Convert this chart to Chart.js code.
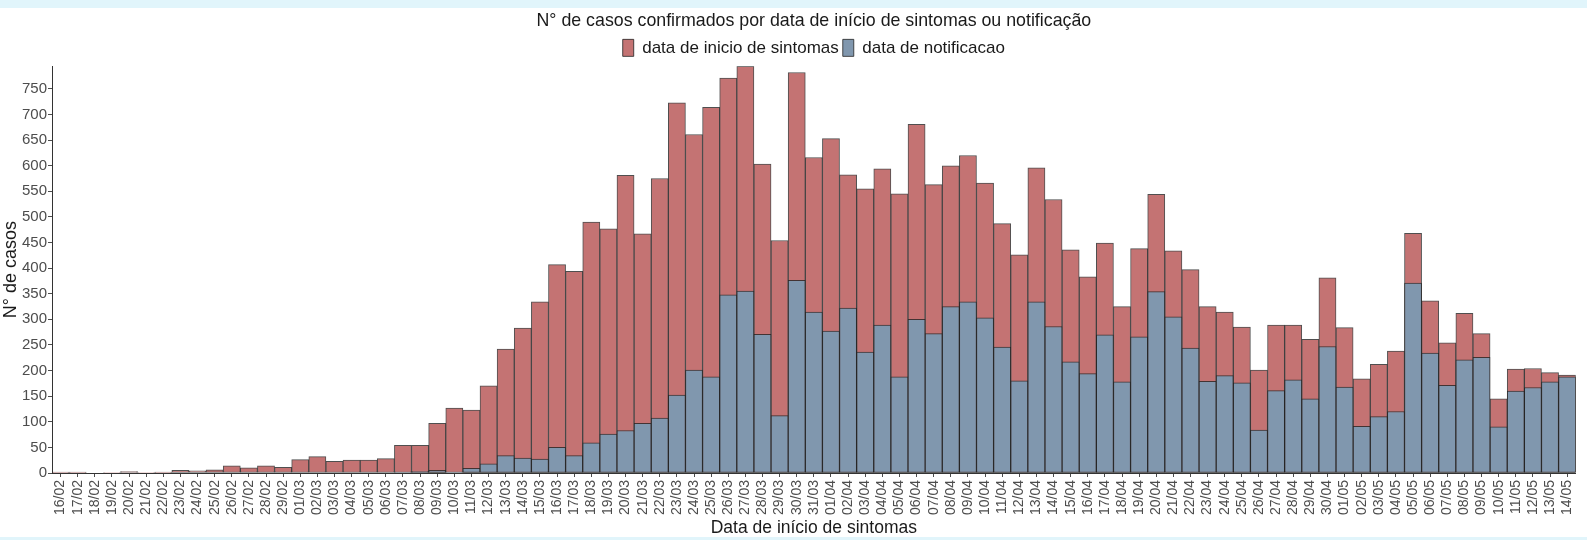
<!DOCTYPE html>
<html>
<head>
<meta charset="utf-8">
<script src="https://cdn.jsdelivr.net/npm/chart.js@4.4.1/dist/chart.umd.min.js"></script>
<style>
  html, body { margin: 0; padding: 0; background: #e1f5fb; width: 1587px; height: 540px; overflow: hidden; }
  #wrap { position: absolute; left: 0; top: 8px; width: 1587px; height: 529px; background: #ffffff; }
  canvas { display: block; }
</style>
</head>
<body>
<div id="wrap"><canvas id="c" width="1587" height="529"></canvas></div>
<script>
// ---- data ----
const categories = [
  "16/02","17/02","18/02","19/02","20/02","21/02","22/02","23/02","24/02","25/02","26/02","27/02","28/02","29/02",
  "01/03","02/03","03/03","04/03","05/03","06/03","07/03","08/03","09/03","10/03","11/03","12/03","13/03","14/03","15/03","16/03",
  "17/03","18/03","19/03","20/03","21/03","22/03","23/03","24/03","25/03","26/03","27/03","28/03","29/03","30/03","31/03",
  "01/04","02/04","03/04","04/04","05/04","06/04","07/04","08/04","09/04","10/04","11/04","12/04","13/04","14/04","15/04",
  "16/04","17/04","18/04","19/04","20/04","21/04","22/04","23/04","24/04","25/04","26/04","27/04","28/04","29/04","30/04",
  "01/05","02/05","03/05","04/05","05/05","06/05","07/05","08/05","09/05","10/05","11/05","12/05","13/05","14/05"
];
const inicioSintomas = [
  2,2,0,1,3,1,2,5,4,6,14,10,14,11,
  26,32,23,25,25,28,54,54,97,127,123,170,242,283,334,407,
  394,490,477,581,467,575,723,661,714,771,794,603,454,782,616,
  653,582,555,594,545,681,563,600,620,566,487,426,596,534,436,
  383,449,325,438,544,434,397,325,314,285,201,289,289,261,381,
  284,184,212,238,468,336,254,312,272,145,203,204,196,191
];
const notificacao = [
  0,0,0,0,0,0,0,0,0,0,0,0,0,0,
  0,0,0,0,0,0,1,3,5,1,9,18,34,29,27,50,
  34,59,76,83,97,107,152,201,188,348,355,271,112,376,314,
  277,322,236,289,188,300,272,325,334,303,246,180,334,286,217,
  194,270,178,266,354,305,244,179,190,176,84,161,182,145,247,
  168,91,110,120,371,234,171,221,226,90,160,167,178,188
];
const yTickValues = [0,50,100,150,200,250,300,350,400,450,500,550,600,650,700,750];
const yMax = 794;

const RED = '#c47373';
const BLUE = '#8097ae';
const EDGE = 'rgba(35,35,35,0.8)';
const FONT = "'Liberation Sans', Arial, sans-serif";

new Chart(document.getElementById('c'), {
  type: 'bar',
  data: {
    labels: categories,
    datasets: [
      { label: 'data de inicio de sintomas', data: inicioSintomas, backgroundColor: RED,
        borderColor: EDGE, borderWidth: 1, borderSkipped: false, order: 1 },
      { label: 'data de notificacao', data: notificacao, backgroundColor: BLUE,
        borderColor: EDGE, borderWidth: 1, borderSkipped: false, order: 0 }
    ]
  },
  options: {
    responsive: false,
    animation: false,
    layout: { padding: { left: 0, right: 4, top: 0, bottom: 0 } },
    datasets: { bar: { grouped: false, categoryPercentage: 1.0, barPercentage: 1.0 } },
    plugins: {
      title: {
        display: true,
        fullSize: false,
        text: 'N° de casos confirmados por data de início de sintomas ou notificação',
        color: '#1a1a1a',
        font: { family: FONT, size: 17.8, weight: 'normal' },
        padding: { top: 2, bottom: 4 }
      },
      legend: {
        display: true,
        fullSize: false,
        position: 'top',
        labels: {
          color: '#1a1a1a',
          font: { family: FONT, size: 17 },
          boxWidth: 11,
          boxHeight: 17,
          padding: 4,
          sort: (a, b) => a.datasetIndex - b.datasetIndex
        }
      },
      tooltip: { enabled: false }
    },
    scales: {
      x: {
        offset: true,
        grid: { display: true, drawOnChartArea: false, drawTicks: true, tickLength: 4, offset: false, color: '#4d4d4d' },
        border: { display: true, color: '#333333', width: 1 },
        ticks: { autoSkip: false, maxRotation: 90, minRotation: 90, padding: 3, color: '#4d4d4d',
                 font: { family: FONT, size: 14 } },
        title: { display: true, text: 'Data de início de sintomas', color: '#1a1a1a',
                 font: { family: FONT, size: 17.5, lineHeight: 1.0 }, padding: { top: 0, bottom: 0 } },
        afterFit: (s) => { s.height = 64; }
      },
      y: {
        min: 0,
        max: yMax,
        grid: { display: true, drawOnChartArea: false, drawTicks: true, tickLength: 4, color: '#4d4d4d' },
        border: { display: true, color: '#333333', width: 1 },
        ticks: { stepSize: 50, padding: 1, color: '#4d4d4d', font: { family: FONT, size: 15 } },
        afterBuildTicks: (s) => { s.ticks = yTickValues.map(v => ({ value: v })); },
        title: { display: true, text: 'N° de casos', color: '#1a1a1a',
                 font: { family: FONT, size: 18 }, padding: { top: 0, bottom: 0 } },
        afterFit: (s) => { s.width = 52; }
      }
    }
  }
});
</script>
</body>
</html>
